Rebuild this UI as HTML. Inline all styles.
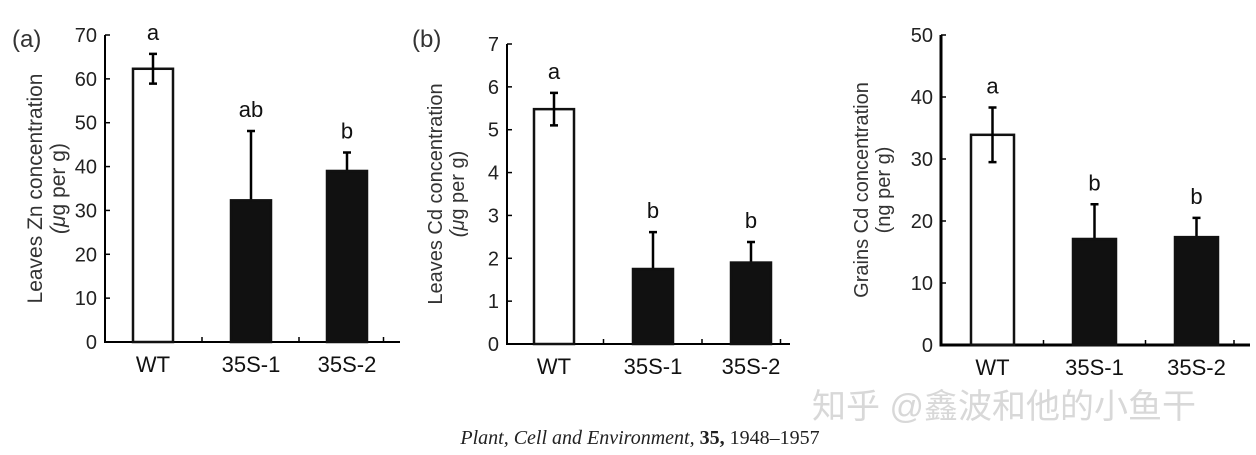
<!DOCTYPE html>
<html><head><meta charset="utf-8"><style>
html,body{margin:0;padding:0;background:#fff;}
svg{display:block;}
</style></head><body>
<svg id="fig" width="1256" height="455" viewBox="0 0 1256 455" xmlns="http://www.w3.org/2000/svg" font-family="Liberation Sans, Arial, sans-serif">
<text x="12" y="47" font-size="24" fill="#333">(a)</text>
<text x="412" y="47" font-size="24" fill="#333">(b)</text>
<text x="812" y="418" font-size="34" fill="#d8d8d8" style="font-family:'Liberation Sans','Noto Sans CJK SC',sans-serif">知乎 @鑫波和他的小鱼干</text>
<text x="640" y="444" font-size="20" text-anchor="middle" fill="#222" style="font-family:'Liberation Serif',serif"><tspan font-style="italic">Plant, Cell and Environment,</tspan> <tspan font-weight="bold">35,</tspan> 1948–1957</text>
</svg>
<script>
const categories = ["WT","35S-1","35S-2"];
const znValues = [62.3, 32.3, 39.0];
const znErrors = [3.4, 15.8, 4.2];
const znLetters = ["a","ab","b"];
const znTicks = [0,10,20,30,40,50,60,70];
const cdLeafValues = [5.48, 1.75, 1.9];
const cdLeafErrors = [0.38, 0.86, 0.48];
const cdLeafLetters = ["a","b","b"];
const cdLeafTicks = [0,1,2,3,4,5,6,7];
const cdGrainValues = [33.9, 17.1, 17.4];
const cdGrainErrors = [4.4, 5.6, 3.1];
const cdGrainLetters = ["a","b","b"];
const cdGrainTicks = [0,10,20,30,40,50];

const NS="http://www.w3.org/2000/svg";
const svg=document.getElementById('fig');
function mk(tag,attrs,parent){const e=document.createElementNS(NS,tag);for(const k in attrs)e.setAttribute(k,attrs[k]);(parent||svg).appendChild(e);return e;}

function panel(cfg){
  const g=mk('g',{});
  
  
  const ymax=cfg.ticks[cfg.ticks.length-1];
  const y=v=>cfg.y0-(v/ymax)*(cfg.y0-cfg.yTop);
  const ax=mk('path',{d:`M${cfg.ax} ${cfg.yTop} V${cfg.y0} H${cfg.xEnd}`,stroke:'#000','stroke-width':cfg.sw,fill:'none'},g);
  
  
  cfg.ticks.forEach(t=>{
    mk('line',{x1:cfg.ax,x2:cfg.ax+5,y1:y(t),y2:y(t),stroke:'#000','stroke-width':1.5},g);
    const tl=mk('text',{x:cfg.ax-8,y:y(t)+7,'font-size':20,'text-anchor':'end',fill:'#222'},g);
    tl.textContent=t;
    
    
  });
  [1,2,3].forEach(i=>{
    const xx=(cfg.bx[i-1]+cfg.bw+(cfg.bx[i]!==undefined?cfg.bx[i]:cfg.xEnd))/2;
    mk('line',{x1:xx,x2:xx,y1:cfg.y0,y2:cfg.y0-5,stroke:'#000','stroke-width':1.5},g);
  });
  categories.forEach((c,i)=>{
    const x=cfg.bx[i], v=cfg.vals[i], e=cfg.errs[i];
    const cx=x+cfg.bw/2;
    const lo=i===0?y(v-e):y(v);
    const el=mk('path',{d:`M${cx} ${lo} V${y(v+e)} M${cx-4} ${y(v+e)} H${cx+4}`+(i===0?` M${cx-4} ${y(v-e)} H${cx+4}`:''),stroke:'#000','stroke-width':2.5,fill:'none'},g);
    
    
    const r=mk('rect',{x:x,y:y(v),width:cfg.bw,height:cfg.y0-y(v),fill:i===0?'none':'#111',stroke:'#111','stroke-width':2.5},g);
    
    
    if(i===0) g.insertBefore(r, el);
    const lt=mk('text',{x:cx,y:y(v+e)-14,'font-size':22,'text-anchor':'middle',fill:'#111'},g);
    lt.textContent=cfg.letters[i];
    
    
    const xl=mk('text',{x:cx,y:cfg.y0+30,'font-size':22,'text-anchor':'middle',fill:'#111'},g);
    xl.textContent=c;
    
    
  });
  const yt=mk('text',{transform:`translate(${cfg.lx} ${(cfg.y0+cfg.yTop)/2}) rotate(-90)`,'font-size':cfg.lfs,'text-anchor':'middle',fill:'#333'},g);
  
  
  const t1=mk('tspan',{x:0,dy:0},yt); t1.textContent=cfg.l1;
  const t2=mk('tspan',{x:0,dy:cfg.lfs*1.1},yt);
  if(cfg.mu){const m=mk('tspan',{'font-style':'italic'},t2);m.textContent='(μ';const r=mk('tspan',{},t2);r.textContent='g per g)';}
  else t2.textContent=cfg.l2;
}
panel({name:'panel-a-zn',ticks:znTicks,vals:znValues,errs:znErrors,letters:znLetters,ax:105,y0:342,yTop:35,xEnd:400,bx:[133,231,327],bw:40,sw:2,lx:42,lfs:21,l1:'Leaves Zn concentration',mu:true});
panel({name:'panel-b-leaf-cd',ticks:cdLeafTicks,vals:cdLeafValues,errs:cdLeafErrors,letters:cdLeafLetters,ax:507,y0:344,yTop:44,xEnd:790,bx:[534,633,731],bw:40,sw:2,lx:442,lfs:20,l1:'Leaves Cd concentration',mu:true});
panel({name:'panel-c-grain-cd',ticks:cdGrainTicks,vals:cdGrainValues,errs:cdGrainErrors,letters:cdGrainLetters,ax:941,y0:345,yTop:35,xEnd:1250,bx:[971,1073,1175],bw:43,sw:3,lx:868,lfs:20,l1:'Grains Cd concentration',l2:'(ng per g)'});
</script>
</body></html>
